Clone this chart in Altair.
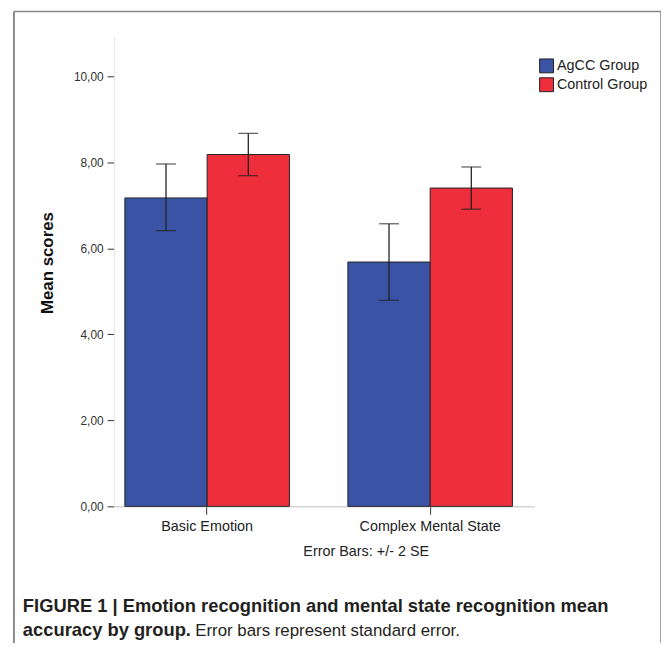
import altair as alt
import pandas as pd

categories = ["Basic Emotion", "Basic Emotion", "Complex Mental State", "Complex Mental State"]
groups = ["AgCC Group", "Control Group", "AgCC Group", "Control Group"]
means = [7.17, 8.18, 5.68, 7.40]
err_low = [6.41, 7.69, 4.79, 6.91]
err_high = [7.96, 8.67, 6.57, 7.89]

group_names = ["AgCC Group", "Control Group"]
group_colors = ["#3a53a5", "#ee2f3b"]
cat_names = ["Basic Emotion", "Complex Mental State"]
y_ticks = [0, 2, 4, 6, 8, 10]

caption_l1 = ["FIGURE 1 | Emotion recognition and mental state recognition mean"]
caption_l2a = ["accuracy by group."]
caption_l2b = ["Error bars represent standard error."]

df = pd.DataFrame({"cat": categories, "group": groups, "mean": means,
                   "lo": err_low, "hi": err_high})

FONT = "Liberation Sans"

x_enc = alt.X("cat:N", sort=cat_names,
              scale=alt.Scale(paddingInner=0.262, paddingOuter=0.073, align=0.333),
              axis=alt.Axis(title="Error Bars: +/- 2 SE", labelAngle=0, labelFontSize=14.5,
                            labelColor="#222", labelFont=FONT, labelPadding=5,
                            tickSize=8, tickColor="#333", tickWidth=1,
                            domainColor="#bbbbbb", domainWidth=1,
                            titleFont=FONT, titleFontSize=14.5, titleFontWeight="normal",
                            titleColor="#222", titleX=254, titlePadding=12))
xo_enc = alt.XOffset("group:N", sort=group_names,
                     scale=alt.Scale(paddingInner=0, paddingOuter=0))
y_scale = alt.Scale(domain=[0, 10.92], nice=False, zero=True)

bars = alt.Chart(df).mark_bar(stroke="#222", strokeWidth=1).encode(
    x=x_enc,
    xOffset=xo_enc,
    y=alt.Y("mean:Q", scale=y_scale,
            axis=alt.Axis(title="Mean scores", values=y_ticks,
                          labelExpr="replace(format(datum.value, '.2f'), '.', ',')",
                          labelFontSize=12, labelColor="#333", labelFont=FONT,
                          labelPadding=4, tickSize=7, tickColor="#333",
                          domainColor="#e6e6e6", grid=False,
                          titleFont=FONT, titleFontSize=17, titleFontWeight="bold",
                          titleColor="#111", titlePadding=17, titleY=228)),
    color=alt.Color("group:N", sort=group_names,
                    scale=alt.Scale(domain=group_names, range=group_colors),
                    legend=alt.Legend(title=None, orient="none", legendX=429, legendY=22,
                                      symbolType="square", symbolSize=196,
                                      symbolStrokeColor="#222", symbolStrokeWidth=1,
                                      labelFontSize=14.5, labelFont=FONT, labelColor="#222",
                                      labelOffset=3, rowPadding=0, padding=0)),
)

rules = alt.Chart(df).mark_rule(color="#222", strokeWidth=1.3).encode(
    x=alt.X("cat:N", sort=cat_names),
    xOffset=alt.XOffset("group:N", sort=group_names),
    y=alt.Y("lo:Q", scale=y_scale),
    y2="hi:Q",
)
caps_hi = alt.Chart(df).mark_tick(color="#222", size=20, thickness=1.3).encode(
    x=alt.X("cat:N", sort=cat_names),
    xOffset=alt.XOffset("group:N", sort=group_names),
    y=alt.Y("hi:Q", scale=y_scale),
)
caps_lo = alt.Chart(df).mark_tick(color="#222", size=20, thickness=1.3).encode(
    x=alt.X("cat:N", sort=cat_names),
    xOffset=alt.XOffset("group:N", sort=group_names),
    y=alt.Y("lo:Q", scale=y_scale),
)

# figure frame (decoration)
frame_left = alt.Chart(pd.DataFrame({"a": [0]})).mark_rule(color="#666", strokeWidth=1.5).encode(
    x=alt.value(-101), y=alt.value(-25.5), y2=alt.value(612))
frame_top = alt.Chart(pd.DataFrame({"a": [0]})).mark_rule(color="#888", strokeWidth=1.5).encode(
    x=alt.value(-101), x2=alt.value(552), y=alt.value(-25.5))
frame_right = alt.Chart(pd.DataFrame({"a": [0]})).mark_rule(color="#888", strokeWidth=1.5).encode(
    x=alt.value(552), y=alt.value(-25.5), y2=alt.value(612))

cap1 = alt.Chart(pd.DataFrame({"t": caption_l1})).mark_text(
    align="left", baseline="alphabetic", font=FONT, fontSize=18.5, fontWeight="bold",
    color="#231f20").encode(text="t:N", x=alt.value(-92), y=alt.value(581))
cap2a = alt.Chart(pd.DataFrame({"t": caption_l2a})).mark_text(
    align="left", baseline="alphabetic", font=FONT, fontSize=18.5, fontWeight="bold",
    color="#231f20").encode(text="t:N", x=alt.value(-92), y=alt.value(605))
cap2b = alt.Chart(pd.DataFrame({"t": caption_l2b})).mark_text(
    align="left", baseline="alphabetic", font=FONT, fontSize=17,
    fontWeight="normal", color="#231f20").encode(text="t:N", x=alt.value(82), y=alt.value(605))

chart = alt.layer(bars, rules, caps_hi, caps_lo, frame_left, frame_top, frame_right,
                  cap1, cap2a, cap2b).properties(
    width=424, height=474,
    background="white",
    autosize=alt.AutoSizeParams(type="none"),
    padding={"left": 107, "top": 26, "right": 128, "bottom": 136},
).configure_view(strokeWidth=0, stroke="transparent")

chart.save("out.html", embed_options={"renderer": "svg", "actions": False})
